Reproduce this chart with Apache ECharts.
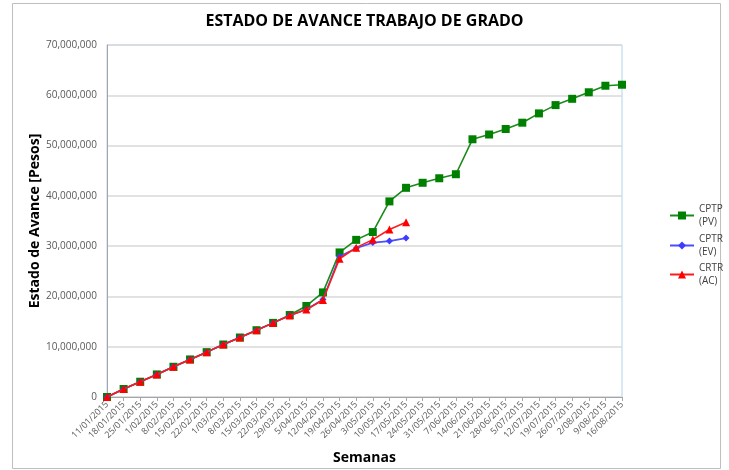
<!DOCTYPE html>
<html>
<head>
<meta charset="utf-8">
<script src="https://cdn.jsdelivr.net/npm/echarts@6/dist/echarts.min.js"></script>
<style>html,body{margin:0;padding:0;background:#fff}#c{width:729px;height:470px}</style>
</head>
<body>
<div id="c"></div>
<script>
const weeks = ['11/01/2015','18/01/2015','25/01/2015','1/02/2015','8/02/2015','15/02/2015','22/02/2015','1/03/2015','8/03/2015','15/03/2015','22/03/2015','29/03/2015','5/04/2015','12/04/2015','19/04/2015','26/04/2015','3/05/2015','10/05/2015','17/05/2015','24/05/2015','31/05/2015','7/06/2015','14/06/2015','21/06/2015','28/06/2015','5/07/2015','12/07/2015','19/07/2015','26/07/2015','2/08/2015','9/08/2015','16/08/2015'];
const cptp = [0,1590000,3040000,4490000,6010000,7470000,8920000,10440000,11830000,13280000,14740000,16300000,18100000,20800000,28750000,31250000,32800000,38900000,41600000,42600000,43500000,44300000,51250000,52200000,53300000,54550000,56400000,58050000,59300000,60600000,61900000,62100000];
const cptr = [0,1590000,3040000,4490000,6010000,7470000,8920000,10440000,11830000,13280000,14740000,16200000,17400000,19400000,27950000,29600000,30700000,31000000,31600000];
const crtr = [0,1590000,3040000,4490000,6010000,7470000,8920000,10440000,11830000,13280000,14740000,16200000,17380000,19300000,27500000,29700000,31300000,33300000,34750000];
const yTicks = [0,10000000,20000000,30000000,40000000,50000000,60000000,70000000];
const names = ['CPTP (PV)','CPTR (EV)','CRTR (AC)'];

const chart = echarts.init(document.getElementById('c'), null, {renderer:'canvas'});
const fmt = v => String(v).replace(/\B(?=(\d{3})+(?!\d))/g, ',');
const legendText = {fontSize:10, color:'#404040', lineHeight:13, padding:[13,0,0,0], fontFamily:'Open Sans'};
function leg(name, top){
  return {data:[name], orient:'vertical', left:664, top:top, itemWidth:24, itemHeight:10, itemGap:0,
    formatter: n => n.replace(' ', '\n'), textStyle:legendText};
}
chart.setOption({
  animation:false,
  backgroundColor:'#fff',
  graphic:[{type:'rect', shape:{x:12.5,y:3.5,width:708,height:465}, style:{fill:'none', stroke:'#bfbfbf', lineWidth:1}, silent:true}],
  title:{text:'ESTADO DE AVANCE TRABAJO DE GRADO', left:'center', top:8,
    textStyle:{fontFamily:'Open Sans', fontWeight:'bold', fontSize:16, color:'#000'}},
  legend:[leg(names[0],191), leg(names[1],221), leg(names[2],250)],
  grid:{left:107, right:107, top:45, bottom:72, show:true, borderColor:'#b4d2ee', borderWidth:1, backgroundColor:'transparent'},
  xAxis:{type:'category', data:weeks, boundaryGap:false,
    name:'Semanas', nameLocation:'middle', nameGap:54,
    nameTextStyle:{fontFamily:'Open Sans', fontWeight:'bold', fontSize:14, color:'#000'},
    axisLine:{lineStyle:{color:'#a6a6a6'}},
    axisTick:{alignWithLabel:true, length:4, lineStyle:{color:'#a6a6a6'}},
    axisLabel:{rotate:45, interval:0, fontSize:9, color:'#595959', fontFamily:'Open Sans', margin:6},
    splitLine:{show:false}},
  yAxis:{type:'value', min:0, max:70000000, interval:10000000,
    name:'Estado de Avance [Pesos]', nameLocation:'middle', nameGap:65, nameRotate:90, nameMoveOverlap:false,
    nameTextStyle:{fontFamily:'Open Sans', fontWeight:'bold', fontSize:14, color:'#000'},
    axisLine:{show:true, lineStyle:{color:'#a6a6a6'}},
    axisTick:{show:false},
    axisLabel:{fontSize:10, color:'#595959', fontFamily:'Open Sans', margin:10, formatter:v => yTicks.includes(v) ? fmt(v) : ''},
    splitLine:{lineStyle:{color:'#d9d9d9', width:1.5}}},
  series:[
    {name:names[0], type:'line', data:cptp, symbol:'rect', symbolSize:8, itemStyle:{color:'#008000'}, lineStyle:{color:'#1a8a1a', width:1.6}, z:2},
    {name:names[1], type:'line', data:cptr, symbol:'diamond', symbolSize:7, itemStyle:{color:'#3d3dff'}, lineStyle:{color:'#4d4dff', width:1.6}, z:3},
    {name:names[2], type:'line', data:crtr, symbol:'triangle', symbolSize:8, itemStyle:{color:'#ff0000'}, lineStyle:{color:'#ff1a1a', width:1.6}, z:4}
  ]
});
</script>
</body>
</html>
